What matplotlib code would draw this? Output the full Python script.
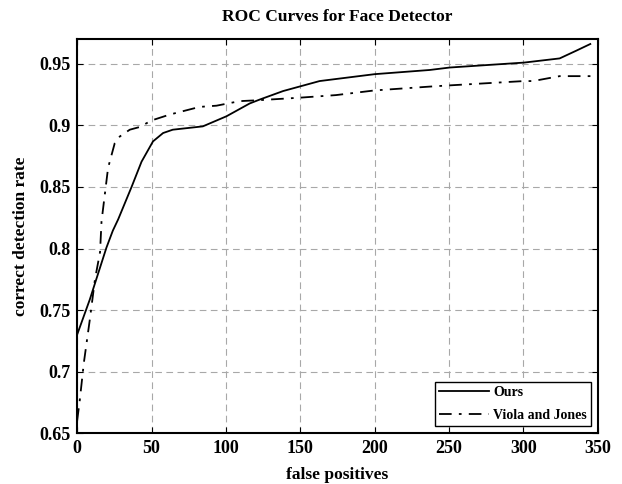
import numpy as np
import matplotlib

matplotlib.use("agg")
import matplotlib.pyplot as plt

plt.rcParams["font.family"] = ["Liberation Serif", "DejaVu Serif"]
plt.rcParams["font.weight"] = "bold"

# values
ours_fp = [0, 8.5, 19.7, 24, 27.6, 36.6, 43.3, 51, 57.8, 64.3, 84.5, 100.4,
           116, 122.8, 138.5, 163, 200, 237, 250.5, 300.4, 324.4, 335.6, 345]
ours_rate = [0.73, 0.7585, 0.8007, 0.8145, 0.8237, 0.85, 0.8705, 0.887, 0.8938,
             0.8965, 0.8992, 0.9074, 0.9178, 0.921, 0.9279, 0.936, 0.9416,
             0.945, 0.947, 0.951, 0.9544, 0.9607, 0.9661]

vj_fp = [0, 1.8, 4.5, 8.5, 12, 15.4, 16.4, 20.8, 25.3, 28.7, 35.4, 42.1, 50,
         62.3, 82.3, 93.7, 109.3, 122.8, 149.7, 174, 200, 237, 250.5, 300.4,
         306.5, 324.4, 350]
vj_rate = [0.66, 0.677, 0.707, 0.742, 0.775, 0.797, 0.822, 0.8655, 0.8856,
           0.891, 0.8965, 0.8987, 0.904, 0.9088, 0.915, 0.916, 0.9197, 0.9205,
           0.9225, 0.9246, 0.9284, 0.9315, 0.9325, 0.936, 0.936, 0.940, 0.940]

x_ticks = [0, 50, 100, 150, 200, 250, 300, 350]
y_ticks = [0.65, 0.7, 0.75, 0.8, 0.85, 0.9, 0.95]
y_labels = ["0.65", "0.7", "0.75", "0.8", "0.85", "0.9", "0.95"]

fig = plt.figure(figsize=(6.22, 4.84), dpi=100)
ax = fig.add_axes([0.124, 0.105, 0.837, 0.814])

ax.plot(ours_fp, ours_rate, "-", color="black", lw=1.3, label="Ours")
ax.plot(vj_fp, vj_rate, color="black", lw=1.3, label="Viola and Jones",
        linestyle=(0, (7, 4, 1.5, 4)))

ax.set_xlim(0, 350)
ax.set_ylim(0.65, 0.97)
ax.set_xticks(x_ticks)
ax.set_yticks(y_ticks)
ax.set_yticklabels(y_labels)
ax.tick_params(direction="in", top=True, right=True, labelsize=13, length=4,
               pad=5)
for lab in ax.get_xticklabels() + ax.get_yticklabels():
    lab.set_fontweight("bold")
for s in ax.spines.values():
    s.set_linewidth(1.5)

ax.grid(True, color="#a8a8a8", linestyle=(0, (6, 4)), lw=0.8)

ax.set_xlabel("false positives", fontsize=12.5, fontweight="bold", labelpad=7)
ax.set_ylabel("correct detection rate", fontsize=12.5, fontweight="bold",
              labelpad=7)
ax.set_title("ROC Curves for Face Detector", fontsize=12.5, fontweight="bold",
             pad=13)

leg = ax.legend(loc="lower right", fancybox=False, edgecolor="black",
                fontsize=10, borderpad=0.3, labelspacing=0.7,
                handlelength=3.6, handletextpad=0.3, framealpha=1,
                borderaxespad=0.5)
leg.get_frame().set_linewidth(1.0)
for t in leg.get_texts():
    t.set_fontweight("bold")

plt.savefig("out.png", dpi=100)
